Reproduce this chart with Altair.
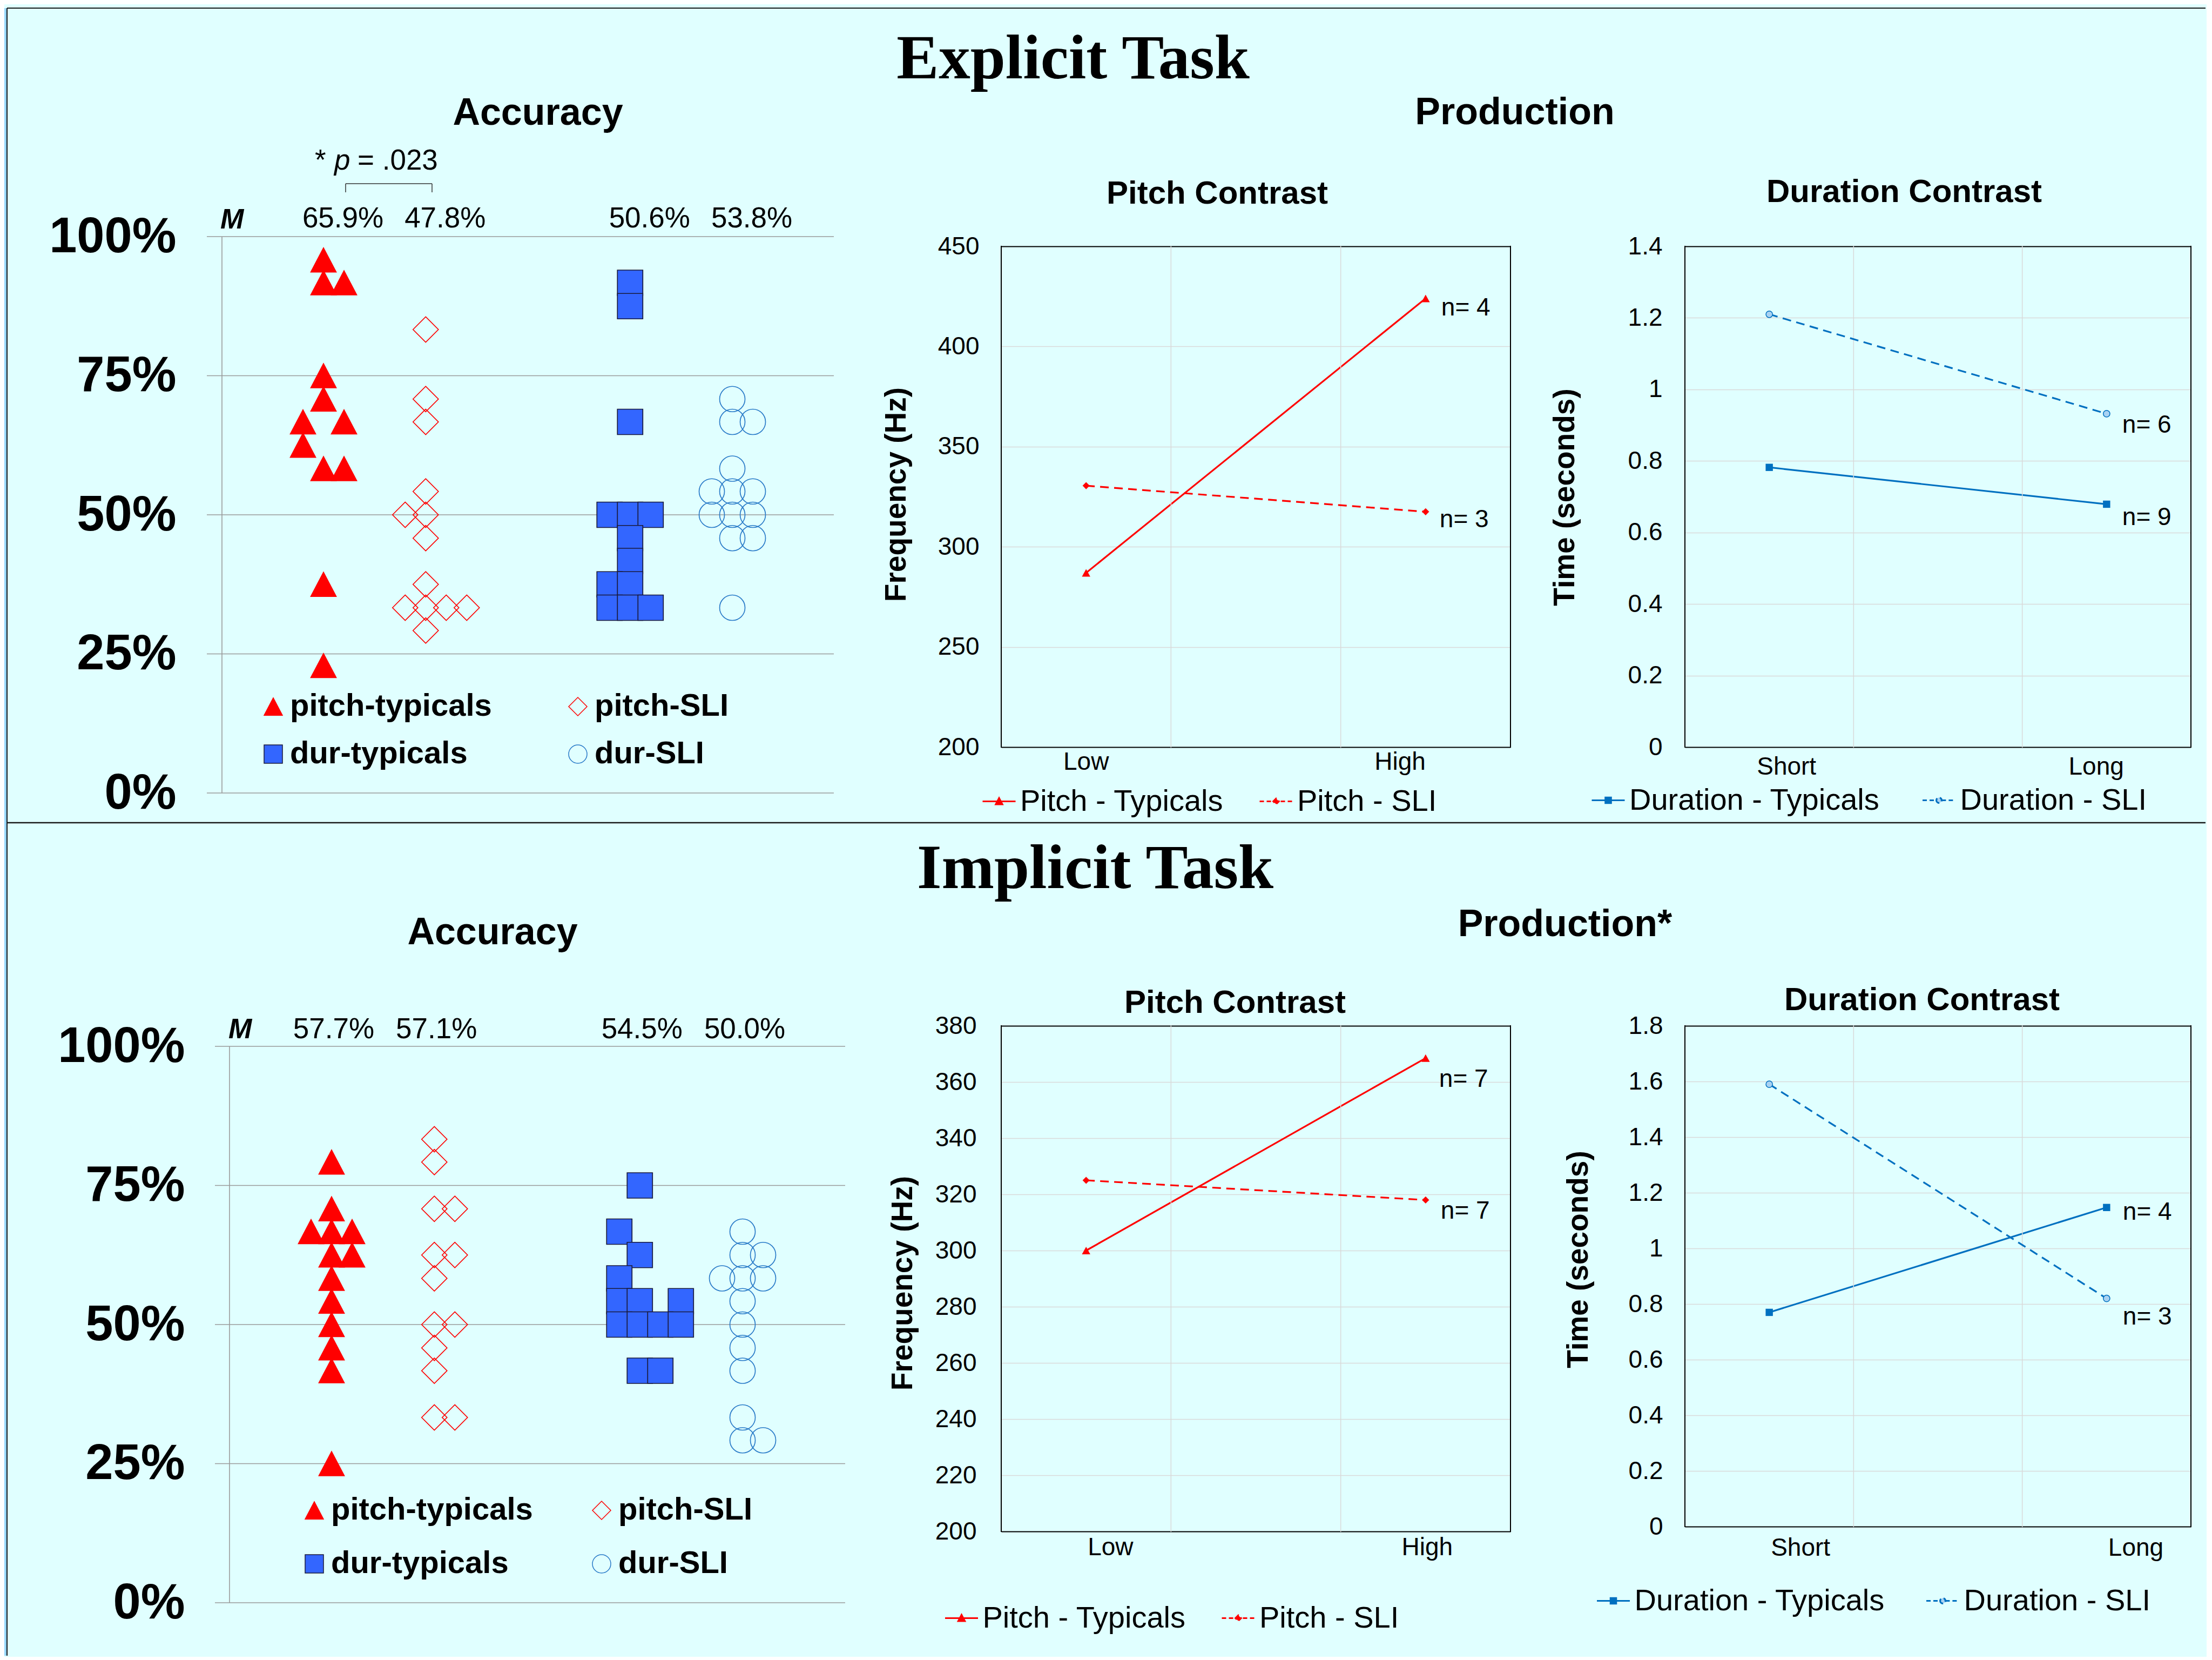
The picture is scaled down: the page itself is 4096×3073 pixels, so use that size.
import altair as alt
import pandas as pd

SANS = "Liberation Sans"
SERIF = "Liberation Serif"
BG = "#E0FFFF"
RED = "#FF0000"
BLUE = "#0070C0"
SQ_BLUE = "#3366FF"
SQ_EDGE = "#1A1A3A"
CIRC = "#2A7BC8"
LIGHT = "#A9D2F2"
GRID = "#D9D9D9"
ACC_GRID = "#9A9A9A"
DARK = "#1A1A1A"
EDGE_BLUE = "#96D7FF"

# ---------------- accuracy data (percent correct, side-by-side slot) ----------------
GROUPS = ["pitch-typicals", "pitch-SLI", "dur-typicals", "dur-SLI"]
X_SLOTS = ["pitch-typicals", "pitch-SLI", "gap", "dur-typicals", "dur-SLI"]
ACC_TICKS = [0, 0.25, 0.5, 0.75, 1.0]
ACC_SPAN = {"lo": [0.0], "hi": [1.0]}

EXP_PITCH_TYP = [95.8, 91.7, 91.7, 75.0, 70.8, 66.7, 66.7, 62.5, 58.3, 58.3, 37.5, 22.9]
EXP_PITCH_TYP_SLOT = [0, 0, 1, 0, 0, -1, 1, -1, 0, 1, 0, 0]
EXP_PITCH_SLI = [83.3, 70.8, 66.7, 54.2, 50.0, 50.0, 45.8, 37.5, 33.3, 33.3, 33.3, 33.3, 29.2]
EXP_PITCH_SLI_SLOT = [0, 0, 0, 0, -1, 0, 0, 0, -1, 0, 1, 2, 0]
EXP_DUR_TYP = [91.7, 87.5, 66.7, 50.0, 50.0, 50.0, 45.8, 41.7, 37.5, 37.5, 33.3, 33.3, 33.3]
EXP_DUR_TYP_SLOT = [0, 0, 0, -1, 0, 1, 0, 0, -1, 0, -1, 0, 1]
EXP_DUR_SLI = [70.8, 66.7, 66.7, 58.3, 54.2, 54.2, 54.2, 50.0, 50.0, 50.0, 45.8, 45.8, 33.3]
EXP_DUR_SLI_SLOT = [0, 0, 1, 0, -1, 0, 1, -1, 0, 1, 0, 1, 0]
EXP_MEANS = ["65.9%", "47.8%", "50.6%", "53.8%"]

IMP_PITCH_TYP = [79.2, 70.8, 66.7, 66.7, 66.7, 62.5, 62.5, 58.3, 54.2, 50.0, 45.8, 41.7, 25.0]
IMP_PITCH_TYP_SLOT = [0, 0, -1, 0, 1, 0, 1, 0, 0, 0, 0, 0, 0]
IMP_PITCH_SLI = [83.3, 79.2, 70.8, 70.8, 62.5, 62.5, 58.3, 50.0, 50.0, 45.8, 41.7, 33.3, 33.3]
IMP_PITCH_SLI_SLOT = [0, 0, 0, 1, 0, 1, 0, 0, 1, 0, 0, 0, 1]
IMP_DUR_TYP = [75.0, 66.7, 62.5, 58.3, 54.2, 54.2, 54.2, 50.0, 50.0, 50.0, 50.0, 41.7, 41.7]
IMP_DUR_TYP_SLOT = [0, -1, 0, -1, -1, 0, 2, -1, 0, 1, 2, 0, 1]
IMP_DUR_SLI = [66.7, 62.5, 62.5, 58.3, 58.3, 58.3, 54.2, 50.0, 45.8, 41.7, 33.3, 29.2, 29.2]
IMP_DUR_SLI_SLOT = [0, 0, 1, -1, 0, 1, 0, 0, 0, 0, 0, 0, 1]
IMP_MEANS = ["57.7%", "57.1%", "54.5%", "50.0%"]

# ---------------- production data ----------------
PITCH_LEVELS = ["Low", "High"]
DUR_LEVELS = ["Short", "Long"]
EXP_PITCH_TYP_HZ = [287.0, 424.0]
EXP_PITCH_SLI_HZ = [330.5, 317.5]
EXP_DUR_TYP_S = [0.782, 0.679]
EXP_DUR_SLI_S = [1.21, 0.932]
IMP_PITCH_TYP_HZ = [300.0, 368.5]
IMP_PITCH_SLI_HZ = [325.0, 318.0]
IMP_DUR_TYP_S = [0.77, 1.147]
IMP_DUR_SLI_S = [1.59, 0.82]
EXP_PITCH_N = ["n= 4", "n= 3"]   # typicals, SLI
EXP_DUR_N = ["n= 9", "n= 6"]
IMP_PITCH_N = ["n= 7", "n= 7"]
IMP_DUR_N = ["n= 4", "n= 3"]
EXP_PITCH_TICKS = [200, 250, 300, 350, 400, 450]
EXP_DUR_TICKS = [0, 0.2, 0.4, 0.6, 0.8, 1.0, 1.2, 1.4]
IMP_PITCH_TICKS = [200, 220, 240, 260, 280, 300, 320, 340, 360, 380]
IMP_DUR_TICKS = [0, 0.2, 0.4, 0.6, 0.8, 1.0, 1.2, 1.4, 1.6, 1.8]

ONE = pd.DataFrame({"k": [0]})
TRI = "M0,-0.95L1,0.95L-1,0.95Z"
TRI_SMALL = "M0,-0.9L1,0.9L-1,0.9Z"
LINE_W = 3.2
DASH = [16, 10]

# layout (pixels)
COL_W = [1120, 943, 937]
HEAD_H = 424
MID_H = 431
ACC_H = 1030
EXT_ACC2 = 38     # room above 100% in the implicit accuracy panel
EXT_PROD1 = 18    # room above the frame of the explicit production panels


def txt(text, x, y, size, weight="normal", font=SANS, style="normal", align="center"):
    return alt.Chart(ONE).mark_text(
        text=text, font=font, fontSize=size, fontWeight=weight, fontStyle=style,
        align=align, baseline="alphabetic", color="black"
    ).encode(x=alt.value(x), y=alt.value(y))


def hrule(x1, x2, y, color, w):
    return alt.Chart(ONE).mark_rule(color=color, strokeWidth=w).encode(
        x=alt.value(x1), x2=alt.value(x2), y=alt.value(y))


def vrule(x, y1, y2, color, w):
    return alt.Chart(ONE).mark_rule(color=color, strokeWidth=w).encode(
        x=alt.value(x), y=alt.value(y1), y2=alt.value(y2))


def blank(w, h):
    return alt.Chart(ONE).mark_text(text="").encode(
        x=alt.value(0), y=alt.value(0)).properties(width=w, height=h)


def acc_panel(vals_lists, slot_lists, means, ext, pad, align, axis_x, label_pad,
              gx1, gx2, mean_dx, mean_y, m_x, m_y, lx, ly, cp, rp, extra):
    rows = []
    for g, vals, slots in zip(GROUPS, vals_lists, slot_lists):
        for v, s in zip(vals, slots):
            rows.append({"grp": g, "acc": v / 100.0, "slot": s})
    df = pd.DataFrame(rows)
    yscale = alt.Scale(domain=[0, 1 + ext / ACC_H])
    xenc = alt.X("grp:N", scale=alt.Scale(type="point", domain=X_SLOTS,
                                          padding=pad, align=align), axis=None)
    yaxis = alt.Axis(values=ACC_TICKS, format=".0%", orient="left", labelFont=SANS,
                     labelFontSize=92, labelFontWeight="bold", labelColor="black",
                     labelPadding=label_pad, labelLimit=0, ticks=False, tickSize=0,
                     grid=False, domain=False, title=None)
    grid = alt.Chart(pd.DataFrame({"v": ACC_TICKS})).mark_rule(
        color=ACC_GRID, strokeWidth=1.6).encode(
        y=alt.Y("v:Q", scale=yscale, axis=yaxis), x=alt.value(gx1), x2=alt.value(gx2))
    vline = alt.Chart(pd.DataFrame(ACC_SPAN)).mark_rule(color=ACC_GRID, strokeWidth=1.6).encode(
        x=alt.value(axis_x), y=alt.Y("lo:Q", scale=yscale, axis=None), y2="hi:Q")
    leg = alt.Legend(title=None, orient="none", legendX=lx, legendY=ly, columns=2,
                     direction="horizontal", columnPadding=cp, rowPadding=rp,
                     symbolSize=1156, symbolStrokeWidth=1.5,
                     labelFont=SANS, labelFontSize=58, labelFontWeight="bold",
                     labelColor="black", labelOffset=2, labelLimit=0)
    pts = alt.Chart(df).mark_point(filled=True, opacity=1, size=2209, strokeWidth=1.7).encode(
        x=xenc,
        xOffset=alt.XOffset("slot:Q", scale=alt.Scale(domain=[-1, 1], range=[-38, 38])),
        y=alt.Y("acc:Q", scale=yscale, axis=None),
        shape=alt.Shape("grp:N", scale=alt.Scale(domain=GROUPS, range=[TRI, "diamond", "square", "circle"]), legend=leg),
        fill=alt.Fill("grp:N", scale=alt.Scale(domain=GROUPS, range=[RED, "transparent", SQ_BLUE, "transparent"]), legend=leg),
        stroke=alt.Stroke("grp:N", scale=alt.Scale(domain=GROUPS, range=[RED, RED, SQ_EDGE, CIRC]), legend=leg),
    )
    mean_txt = alt.Chart(pd.DataFrame({"grp": GROUPS, "m": means})).mark_text(
        font=SANS, fontSize=53, dx=mean_dx, baseline="alphabetic", color="black").encode(
        x=xenc, y=alt.value(mean_y), text="m:N")
    m_lab = txt("M", m_x, m_y, 52, "bold", style="italic", align="left")
    return alt.layer(grid, vline, pts, mean_txt, m_lab, *extra).resolve_axis(
        y="independent").properties(width=COL_W[0], height=ACC_H + ext)


def line_panel(c):
    levels = c["levels"]
    ymin, ymax, ext, H = c["ymin"], c["ymax"], c["ext"], c["H"]
    df_t = pd.DataFrame({"level": levels, "val": c["typ"], "series": [c["typ_name"]] * 2,
                         "n": [c["n"][0]] * 2})
    df_s = pd.DataFrame({"level": levels, "val": c["sli"], "series": [c["sli_name"]] * 2,
                         "n": [c["n"][1]] * 2})
    xscale = alt.Scale(type="band", domain=[levels[0], "mid", levels[1]],
                       paddingInner=0, paddingOuter=0)
    yscale = alt.Scale(domain=[ymin, ymax + ext / H * (ymax - ymin)])
    edge = "datum.value == %s || datum.value == %s" % (ymin, ymax)
    label_axis = alt.Axis(
        values=levels, orient="bottom", grid=False, ticks=False, tickSize=0, domain=False,
        labelFont=SANS, labelFontSize=46, labelColor="black", labelPadding=c["xlp"],
        labelBaseline="alphabetic", labelLimit=0, labelAngle=0,
        labelAlign={"condition": {"test": "datum.value == '%s'" % levels[0], "value": c["a0"]},
                    "value": c["a1"]},
        labelOffset=c["xlo"], title=None)
    y_axis = alt.Axis(
        values=c["ticks"], format=c["fmt"], orient="left", grid=True,
        gridColor={"condition": {"test": edge, "value": "black"}, "value": GRID},
        gridWidth={"condition": {"test": edge, "value": 2}, "value": 1.5},
        ticks=False, tickSize=0, domain=False, labelFont=SANS, labelFontSize=46,
        labelColor="black", labelPadding=c["ylp"], labelLimit=0,
        title=c["ytitle"], titleFont=SANS, titleFontSize=55, titleFontWeight="bold",
        titleColor="black", titleX=c["tx"], titleY=c["ty"] + ext, titleAngle=270,
        titleAlign="center", titleBaseline="middle", titleLimit=0)
    col = c["color"]

    def side(levs, bp, color, width):
        d = pd.DataFrame({"level": levs, "lo": [ymin] * len(levs), "hi": [ymax] * len(levs)})
        return alt.Chart(d).mark_rule(color=color, strokeWidth=width, strokeCap="square").encode(
            x=alt.X("level:N", scale=xscale, bandPosition=bp, axis=None),
            y=alt.Y("lo:Q", scale=yscale, axis=None), y2="hi:Q")

    vgrid = side(["mid", levels[1]], 0, GRID, 1.5)
    left = side([levels[0]], 0, "black", 2)
    right = side([levels[1]], 1, "black", 2)
    line_t = alt.Chart(df_t).mark_line(color=col, strokeWidth=LINE_W).encode(
        x=alt.X("level:N", scale=xscale, axis=label_axis),
        y=alt.Y("val:Q", scale=yscale, axis=y_axis))
    line_s = alt.Chart(df_s).mark_line(color=col, strokeWidth=LINE_W, strokeDash=DASH).encode(
        x=alt.X("level:N", scale=xscale, axis=None),
        y=alt.Y("val:Q", scale=yscale, axis=None))
    leg_t = alt.Legend(title=None, orient="none", legendX=c["l1x"], legendY=c["ly"] + ext,
                       symbolType=c["typ_leg"], symbolSize=3721, symbolStrokeWidth=LINE_W,
                       symbolStrokeColor=col, labelFont=SANS, labelFontSize=56,
                       labelColor="black", labelOffset=6.5, labelLimit=0)
    leg_s = alt.Legend(title=None, orient="none", legendX=c["l2x"], legendY=c["ly"] + ext,
                       symbolType=c["sli_leg"], symbolSize=3721, symbolStrokeWidth=LINE_W,
                       symbolStrokeColor=col, symbolDash=[8, 5], labelFont=SANS,
                       labelFontSize=56, labelColor="black", labelOffset=6.5, labelLimit=0)
    xn = alt.X("level:N", scale=xscale, axis=None)
    yn = alt.Y("val:Q", scale=yscale, axis=None)
    pts_t = alt.Chart(df_t).mark_point(filled=True, opacity=1, shape=c["typ_shape"],
                                       size=c["typ_size"]).encode(
        x=xn, y=yn,
        color=alt.Color("series:N", scale=alt.Scale(domain=[c["typ_name"]], range=[col]), legend=leg_t))
    pts_s = alt.Chart(df_s).mark_point(filled=True, opacity=1, shape=c["sli_shape"],
                                       size=c["sli_size"], stroke=c["sli_stroke"],
                                       strokeWidth=c["sli_sw"]).encode(
        x=xn, y=yn,
        fill=alt.Fill("series:N", scale=alt.Scale(domain=[c["sli_name"]], range=[c["sli_fill"]]), legend=leg_s))
    n_t = alt.Chart(df_t.iloc[[1]]).mark_text(
        font=SANS, fontSize=46, align="left", baseline="alphabetic", color="black",
        dx=c["ntdx"], dy=c["ntdy"]).encode(x=xn, y=yn, text="n:N")
    n_s = alt.Chart(df_s.iloc[[1]]).mark_text(
        font=SANS, fontSize=46, align="left", baseline="alphabetic", color="black",
        dx=c["nsdx"], dy=c["nsdy"]).encode(x=xn, y=yn, text="n:N")
    ttl = txt(c["title"], c["ttx"], c["tty"] + ext, 60, "bold")
    return alt.layer(line_t, vgrid, line_s, pts_t, pts_s, n_t, n_s, left, right, ttl).resolve_axis(
        x="independent", y="independent").properties(width=c["W"], height=H + ext)


PITCH_STYLE = dict(levels=PITCH_LEVELS, typ_name="Pitch - Typicals", sli_name="Pitch - SLI",
                   color=RED, typ_shape=TRI_SMALL, typ_size=240, sli_shape="diamond",
                   sli_size=160, sli_fill=RED, sli_stroke=RED, sli_sw=0.5,
                   typ_leg="M-1,0L1,0M-0.2,0.18L0,-0.2L0.2,0.18Z",
                   sli_leg="M-1,0L1,0M-0.17,0L0,-0.17L0.17,0L0,0.17Z", fmt="d")
DUR_STYLE = dict(levels=DUR_LEVELS, typ_name="Duration - Typicals", sli_name="Duration - SLI",
                 color=BLUE, typ_shape="square", typ_size=180, sli_shape="circle",
                 sli_size=150, sli_fill=LIGHT, sli_stroke=BLUE, sli_sw=1.5,
                 typ_leg="M-1,0L1,0M-0.17,-0.17L0.17,-0.17L0.17,0.17L-0.17,0.17Z",
                 sli_leg="M-1,0L-0.16,0M0.16,0L1,0M-0.16,0A0.16,0.16 0 1,0 0.16,0A0.16,0.16 0 1,0 -0.16,0Z",
                 fmt="~g")

pitch1 = line_panel(dict(PITCH_STYLE, typ=EXP_PITCH_TYP_HZ, sli=EXP_PITCH_SLI_HZ, n=EXP_PITCH_N,
                         ymin=200, ymax=450, ext=EXT_PROD1, ticks=EXP_PITCH_TICKS, W=COL_W[1], H=927,
                         ytitle="Frequency (Hz)", tx=-195, ty=459, ylp=41, xlp=41,
                         a0="center", a1="right", xlo=0, title="Pitch Contrast", ttx=400, tty=-79,
                         l1x=-36.5, l2x=476.5, ly=995, ntdx=29, ntdy=32, nsdx=26, nsdy=29))
dur1 = line_panel(dict(DUR_STYLE, typ=EXP_DUR_TYP_S, sli=EXP_DUR_SLI_S, n=EXP_DUR_N,
                       ymin=0, ymax=1.4, ext=EXT_PROD1, ticks=EXP_DUR_TICKS, W=COL_W[2], H=927,
                       ytitle="Time (seconds)", tx=-223, ty=464, ylp=42, xlp=50,
                       a0="center", a1="right", xlo=32, title="Duration Contrast", ttx=406, tty=-82,
                       l1x=-174.5, l2x=438, ly=993, ntdx=29, ntdy=39, nsdx=29, nsdy=35))
pitch2 = line_panel(dict(PITCH_STYLE, typ=IMP_PITCH_TYP_HZ, sli=IMP_PITCH_SLI_HZ, n=IMP_PITCH_N,
                         ymin=200, ymax=380, ext=0, ticks=IMP_PITCH_TICKS, W=COL_W[1], H=936,
                         ytitle="Frequency (Hz)", tx=-183, ty=476, ylp=46, xlp=43,
                         a0="left", a1="center", xlo=3, title="Pitch Contrast", ttx=433, tty=-24,
                         l1x=-106, l2x=406.5, ly=1064, ntdx=25, ntdy=53, nsdx=28, nsdy=35))
dur2 = line_panel(dict(DUR_STYLE, typ=IMP_DUR_TYP_S, sli=IMP_DUR_SLI_S, n=IMP_DUR_N,
                       ymin=0, ymax=1.8, ext=0, ticks=IMP_DUR_TICKS, W=COL_W[2], H=927,
                       ytitle="Time (seconds)", tx=-198, ty=432, ylp=41, xlp=53,
                       a0="left", a1="left", xlo=3, title="Duration Contrast", ttx=439, tty=-29,
                       l1x=-165, l2x=445, ly=1032, ntdx=30, ntdy=23, nsdx=30, nsdy=48))

pval = [
    txt("*", 172, -124, 53, align="left"),
    txt("p", 208, -124, 53, style="italic", align="left"),
    txt("= .023", 251, -124, 53, align="left"),
    hrule(229, 389, -98, "#333333", 1.5),
    vrule(229, -98, -82, "#333333", 1.5),
    vrule(389, -98, -82, "#333333", 1.5),
]
acc1 = acc_panel([EXP_PITCH_TYP, EXP_PITCH_SLI, EXP_DUR_TYP, EXP_DUR_SLI],
                 [EXP_PITCH_TYP_SLOT, EXP_PITCH_SLI_SLOT, EXP_DUR_TYP_SLOT, EXP_DUR_SLI_SLOT],
                 EXP_MEANS, ext=0, pad=0.959, align=0.518, axis_x=0, label_pad=85,
                 gx1=-28, gx2=1133, mean_dx=36, mean_y=-17, m_x=-3, m_y=-15,
                 lx=66, ly=841, cp=130, rp=30, extra=pval)
acc2 = acc_panel([IMP_PITCH_TYP, IMP_PITCH_SLI, IMP_DUR_TYP, IMP_DUR_SLI],
                 [IMP_PITCH_TYP_SLOT, IMP_PITCH_SLI_SLOT, IMP_DUR_TYP_SLOT, IMP_DUR_SLI_SLOT],
                 IMP_MEANS, ext=EXT_ACC2, pad=0.9434, align=0.5655, axis_x=14, label_pad=69,
                 gx1=-13, gx2=1154, mean_dx=4, mean_y=EXT_ACC2 - 15, m_x=12, m_y=EXT_ACC2 - 15,
                 lx=142, ly=868, cp=98, rp=41, extra=[])

head_a1 = alt.layer(
    vrule(-401, 1, 3051, EDGE_BLUE, 4),
    vrule(-398, 1, 3051, DARK, 2),
    hrule(-398, 3673, 1, DARK, 2),
    hrule(-398, 3673, 1509, DARK, 2.5),
    txt("Accuracy", 585, 217, 70, "bold"),
).properties(width=COL_W[0], height=HEAD_H)
head_p1 = alt.layer(
    txt("Explicit Task", 133, 131, 117, "bold", SERIF),
    txt("Production", 951, 216, 70, "bold"),
).properties(width=COL_W[1], height=HEAD_H)
head_d1 = blank(COL_W[2], HEAD_H)
mid_a = alt.layer(txt("Accuracy", 501, 280, 70, "bold")).properties(width=COL_W[0], height=MID_H)
mid_p = alt.layer(
    txt("Implicit Task", 174, 176, 117, "bold", SERIF),
    txt("Production*", 1044, 265, 70, "bold"),
).properties(width=COL_W[1], height=MID_H)
mid_d = blank(COL_W[2], MID_H)

chart = alt.concat(
    head_a1, head_p1, head_d1,
    acc1, pitch1, dur1,
    mid_a, mid_p, mid_d,
    acc2, pitch2, dur2,
    columns=3, spacing={"row": 0, "column": 323}, bounds="flush", align="each",
).resolve_scale(
    color="independent", fill="independent", stroke="independent", shape="independent"
).properties(background=BG, padding=0).configure_view(stroke=None)

chart.save("out.html", embed_options={"renderer": "svg", "actions": False})
